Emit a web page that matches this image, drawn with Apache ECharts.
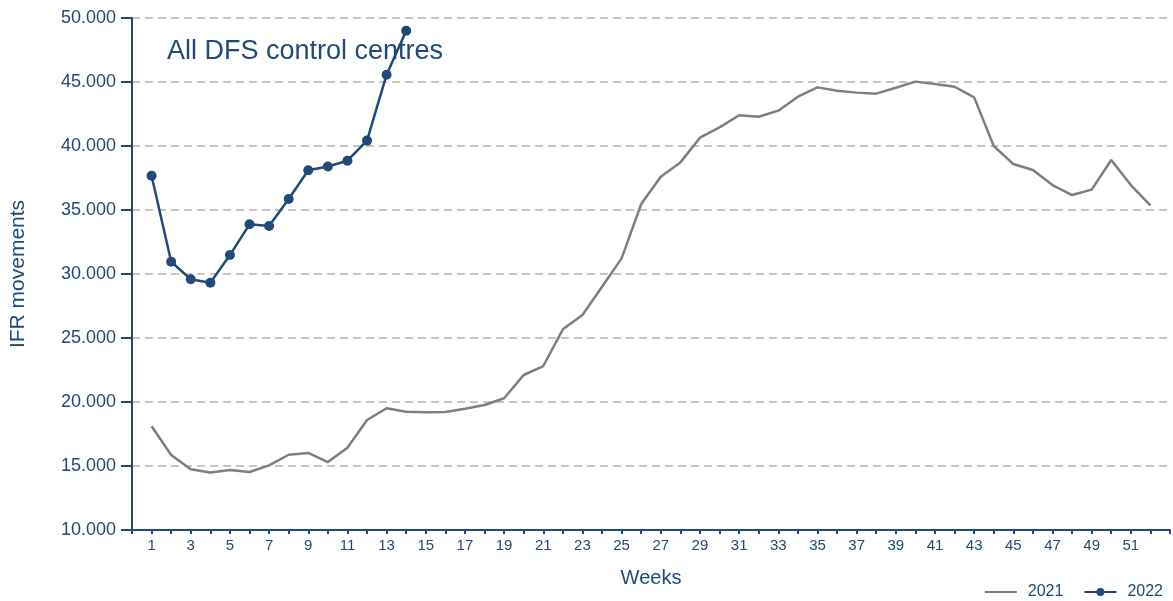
<!DOCTYPE html>
<html>
<head>
<meta charset="utf-8">
<script src="https://cdn.jsdelivr.net/npm/echarts@6/dist/echarts.min.js"></script>
<style>
html,body{margin:0;padding:0;background:#fff;}
#chart{width:1173px;height:601px;}
</style>
</head>
<body>
<div id="chart"></div>
<script>
var weeks = [1,2,3,4,5,6,7,8,9,10,11,12,13,14,15,16,17,18,19,20,21,22,23,24,25,26,27,28,29,30,31,32,33,34,35,36,37,38,39,40,41,42,43,44,45,46,47,48,49,50,51,52];
var values2021 = [18100,15860,14740,14500,14690,14530,15050,15880,16020,15310,
                  16430,18590,19510,19240,19200,19220,19480,19770,20290,22110,
                  22810,25680,26800,29000,31220,35470,37600,38720,40650,41460,
                  42400,42290,42760,43850,44580,44320,44170,44090,44550,45030,
                  44840,44630,43800,40000,38590,38130,36950,36170,36590,38910,
                  36950,35370];
var values2022 = [37680,30960,29590,29320,31480,33880,33750,35860,38100,38400,38850,40420,45570,49010];
var yTicks = [10000,15000,20000,25000,30000,35000,40000,45000,50000];
var seriesNames = ['2021','2022'];
var titleText = 'All DFS control centres';

var blue = '#214a7a';
var gray = '#7f7f7f';
var font = 'Liberation Sans, Arial, sans-serif';

function pairs(vals){ return vals.map(function(v,i){ return [weeks[i], v]; }); }
function fmt(v){ return String(v).replace(/\B(?=(\d{3})+(?!\d))/g, '.'); }

var chart = echarts.init(document.getElementById('chart'), null, {renderer:'canvas'});
chart.setOption({
  animation:false,
  textStyle:{fontFamily:font},
  title:{text:titleText,left:162,top:33,textStyle:{fontFamily:font,fontSize:27,fontWeight:'normal',color:blue}},
  grid:{left:131,right:0,top:18,bottom:71,containLabel:false},
  legend:{
    right:5,top:579,itemWidth:32,itemHeight:10,itemGap:20,
    textStyle:{fontFamily:font,fontSize:16,color:blue,padding:[0,0,0,6]},
    data:[
      {name:seriesNames[0],itemStyle:{opacity:0}},
      {name:seriesNames[1]}
    ]
  },
  xAxis:{
    type:'value',min:0,max:53,interval:1,
    name:'Weeks',nameLocation:'middle',nameGap:38,
    nameTextStyle:{fontFamily:font,fontSize:20,color:blue},
    axisLine:{show:true,lineStyle:{color:blue,width:2}},
    axisTick:{show:true,inside:false,length:4,lineStyle:{color:blue,width:2}},
    axisLabel:{
      fontFamily:font,fontSize:15,color:blue,margin:8,
      formatter:function(v){ return (weeks.indexOf(v)>=0 && v%2===1) ? String(v) : ''; }
    },
    splitLine:{show:false}
  },
  yAxis:{
    type:'value',min:yTicks[0],max:yTicks[yTicks.length-1],interval:5000,
    name:'IFR movements',nameLocation:'middle',nameGap:103,
    nameTextStyle:{fontFamily:font,fontSize:21,color:blue},
    axisLine:{show:true,lineStyle:{color:blue,width:2}},
    axisTick:{show:true,inside:false,length:11,lineStyle:{color:blue,width:2}},
    axisLabel:{fontFamily:font,fontSize:18,color:blue,margin:16,formatter:fmt},
    splitLine:{show:true,lineStyle:{color:'#c6c6c6',width:2,type:[8,5]}}
  },
  series:[
    {name:seriesNames[0],type:'line',data:pairs(values2021),symbol:'none',
     lineStyle:{color:gray,width:2.5},itemStyle:{color:gray},z:2},
    {name:seriesNames[1],type:'line',data:pairs(values2022),symbol:'circle',symbolSize:10,
     lineStyle:{color:blue,width:2.5},itemStyle:{color:blue},z:3}
  ]
});
</script>
</body>
</html>
